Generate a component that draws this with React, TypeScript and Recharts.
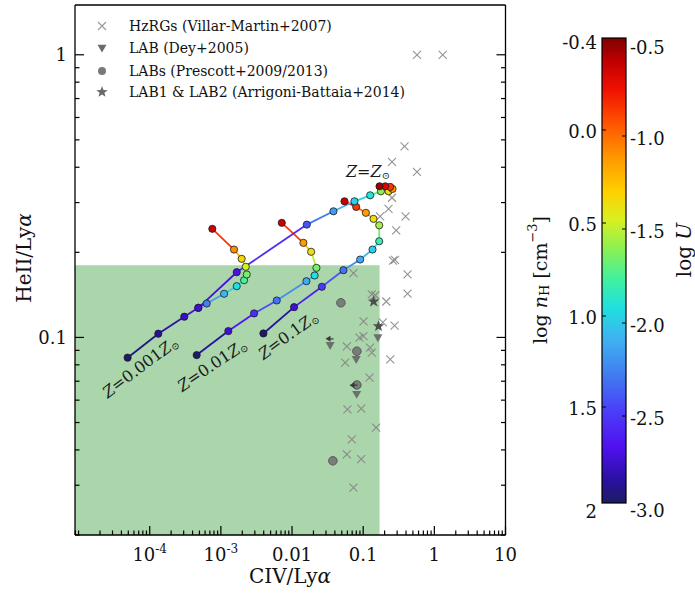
import React from 'react';
import { ComposedChart, Scatter, XAxis, YAxis, ReferenceArea } from 'recharts';

const FONT = '"DejaVu Serif", serif';

const X_DOMAIN: [number, number] = [8.91e-6, 10];
const Y_DOMAIN: [number, number] = [0.02, 1.5];
const X_LABELS: Record<string, [string, string]> = {
  '0.0001': ['10', '-4'], '0.001': ['10', '-3'], '0.01': ['0.01', ''], '0.1': ['0.1', ''], '1': ['1', ''], '10': ['10', ''],
};
const Y_LABELS: Record<string, string> = { '0.1': '0.1', '1': '1' };

// green box: observed upper limits
const LIMIT_CIV = 0.17;
const LIMIT_HEII = 0.18;

// [CIV/Lya, HeII/Lya]
const HZRG: [number, number][] = [
  [0.381, 0.474], [0.254, 0.418], [0.57, 0.385], [0.254, 0.312], [0.227, 0.285], [0.173, 0.268], [0.394, 0.268],
  [0.291, 0.239], [0.262, 0.187], [0.28, 0.188], [0.073, 0.169], [0.42, 0.167], [0.42, 0.143], [0.132, 0.142],
  [0.148, 0.141], [0.211, 0.134], [0.143, 0.133], [0.101, 0.114], [0.189, 0.113], [0.276, 0.11], [0.0887, 0.0998],
  [0.101, 0.101], [0.059, 0.093], [0.125, 0.092], [0.132, 0.0883], [0.24, 0.0836], [0.0558, 0.0814], [0.1226, 0.0721],
  [0.0601, 0.0557], [0.0937, 0.056], [0.152, 0.048], [0.0693, 0.0436], [0.059, 0.0386], [0.0937, 0.0371], [0.073, 0.0294],
  [0.57, 1.0], [1.31, 1.0],
];
const DEY: [number, number][] = [[0.0343, 0.0937], [0.0797, 0.0836], [0.081, 0.0629], [0.161, 0.0998]];
const PRESCOTT: [number, number][] = [[0.0486, 0.1326], [0.0815, 0.0894], [0.0815, 0.0679], [0.0375, 0.0366]];
const ARRIGONI: [number, number][] = [[0.164, 0.1096], [0.14, 0.134]];
const CIV_LIMITS: [number, number][] = [[0.0336, 0.0989], [0.073, 0.0678]];

// model tracks: [CIV/Lya, HeII/Lya, log U]
const TRACK_Z0001: [number, number, number][] = [
  [4.89e-5, 0.0848, -3.05], [1.32e-4, 0.1031, -2.95], [3.06e-4, 0.1184, -2.85], [4.82e-4, 0.1273, -2.7],
  [6.32e-4, 0.1318, -2.3], [1.11e-3, 0.1427, -2.1], [1.67e-3, 0.1518, -1.95], [2.12e-3, 0.1594, -1.75],
  [2.31e-3, 0.167, -1.65], [2.24e-3, 0.1778, -1.45], [1.96e-3, 0.1897, -1.3], [1.53e-3, 0.2046, -1.05],
  [7.58e-4, 0.2422, -0.55],
];
const TRACK_Z001: [number, number, number][] = [
  [4.57e-4, 0.0866, -3.05], [1.273e-3, 0.1053, -2.8], [2.93e-3, 0.1216, -2.6], [6.1e-3, 0.1351, -2.35],
  [0.01593, 0.1581, -2.15], [0.02078, 0.1656, -1.95], [0.02203, 0.1763, -1.65], [0.01855, 0.2009, -1.35],
  [0.01445, 0.2161, -1.1], [7.18e-3, 0.2543, -0.55],
];
const TRACK_Z01: [number, number, number][] = [
  [3.96e-3, 0.1033, -3.05], [0.01069, 0.128, -2.8], [0.02624, 0.1511, -2.55], [0.05282, 0.1729, -2.35],
  [0.0907, 0.1886, -2.15], [0.1352, 0.2046, -2.0], [0.168, 0.2189, -1.8], [0.168, 0.2493, -1.55],
  [0.1396, 0.2627, -1.35], [0.1091, 0.2759, -1.1], [0.0797, 0.2896, -0.8], [0.0546, 0.3031, -0.55],
];
const TRACK_ZSUN: [number, number, number][] = [
  [4.82e-4, 0.1273, -2.8], [1.67e-3, 0.1701, -2.75], [0.01614, 0.2507, -2.45], [0.0382, 0.2794, -2.2],
  [0.0754, 0.3031, -2.0], [0.1254, 0.3183, -1.9], [0.1774, 0.3289, -1.6], [0.227, 0.3289, -1.35],
  [0.2584, 0.3354, -1.1], [0.2399, 0.3408, -0.8], [0.204, 0.3425, -0.6], [0.1696, 0.3425, -0.45],
];
const TRACKS = [TRACK_Z0001, TRACK_Z001, TRACK_Z01, TRACK_ZSUN];

// colour bar (t = 0 bottom, 1 top)
const U_LO = -3.05;
const U_HI = -0.4;
const CMAP: [number, string][] = [
  [0.0, '#1c1c64'], [0.05, '#2a10a0'], [0.12, '#5010f0'], [0.2, '#4a40f8'], [0.28, '#4080f0'], [0.35, '#40b0f0'],
  [0.42, '#20e0e0'], [0.48, '#40f0a0'], [0.55, '#90f050'], [0.61, '#d8f020'], [0.67, '#ffd000'], [0.74, '#ff9a00'],
  [0.81, '#ff5a00'], [0.89, '#f01000'], [0.95, '#c00000'], [1.0, '#800000'],
];
const NH_TICKS: [string, number][] = [['-0.4', 42], ['0.0', 131], ['0.5', 224], ['1.0', 317], ['1.5', 408], ['2', 511]];
const U_TICKS: [string, number][] = [['-0.5', 47], ['-1.0', 138], ['-1.5', 231], ['-2.0', 325], ['-2.5', 418], ['-3.0', 510]];

const LEGEND = ['HzRGs (Villar-Martin+2007)', 'LAB (Dey+2005)', 'LABs (Prescott+2009/2013)', 'LAB1 & LAB2 (Arrigoni-Battaia+2014)'];

const hex = (h: string) => [1, 3, 5].map((i) => parseInt(h.slice(i, i + 2), 16));
function cmap(u: number) {
  const t = Math.min(1, Math.max(0, (u - U_LO) / (U_HI - U_LO)));
  for (let i = 1; i < CMAP.length; i++) {
    if (t <= CMAP[i][0]) {
      const [t0, c0] = CMAP[i - 1];
      const [t1, c1] = CMAP[i];
      const f = (t - t0) / (t1 - t0);
      const a = hex(c0), b = hex(c1);
      return `rgb(${a.map((v, k) => Math.round(v + (b[k] - v) * f)).join(',')})`;
    }
  }
  return CMAP[CMAP.length - 1][1];
}

function logTicks(lo: number, hi: number) {
  const out: number[] = [];
  for (let d = Math.floor(Math.log10(lo)); d <= Math.ceil(Math.log10(hi)); d++) {
    for (let k = 1; k < 10; k++) {
      const v = Number((k * Math.pow(10, d)).toPrecision(3));
      if (v >= lo && v <= hi * 1.0001) out.push(v);
    }
  }
  return out;
}
const isMajor = (v: number) => Math.abs(Math.log10(v) - Math.round(Math.log10(v))) < 1e-9;
const X_TICKS = logTicks(X_DOMAIN[0], X_DOMAIN[1]);
const Y_TICKS = logTicks(Y_DOMAIN[0], Y_DOMAIN[1]);

const tickStroke = { stroke: '#000', strokeWidth: 1.2 };

const BottomTick = (p: any) => {
  const v = p.payload.value;
  const len = isMajor(v) && v > 2e-5 ? 9 : 4.5;
  const lab = X_LABELS[String(v)];
  return (
    <g>
      <line x1={p.x} x2={p.x} y1={p.y} y2={p.y - len} {...tickStroke} />
      {lab && (
        <text x={p.x} y={p.y + 26} textAnchor="middle" fontSize={18} fontFamily={FONT} fill="#111">
          {lab[0]}
          {lab[1] && <tspan dy={-8} fontSize={12}>{lab[1]}</tspan>}
        </text>
      )}
    </g>
  );
};
const TopTick = (p: any) => {
  const v = p.payload.value;
  const len = isMajor(v) && v > 2e-5 ? 9 : 4.5;
  return <line x1={p.x} x2={p.x} y1={p.y} y2={p.y + len} {...tickStroke} />;
};
const LeftTick = (p: any) => {
  const v = p.payload.value;
  const len = isMajor(v) ? 9 : 4.5;
  const lab = Y_LABELS[String(v)];
  return (
    <g>
      <line x1={p.x} x2={p.x + len} y1={p.y} y2={p.y} {...tickStroke} />
      {lab && (
        <text x={p.x - 8} y={p.y} textAnchor="end" dominantBaseline="central" fontSize={18} fontFamily={FONT} fill="#111">{lab}</text>
      )}
    </g>
  );
};
const RightTick = (p: any) => {
  const v = p.payload.value;
  const len = isMajor(v) ? 9 : 4.5;
  return <line x1={p.x} x2={p.x - len} y1={p.y} y2={p.y} {...tickStroke} />;
};

const crossPath = (x: number, y: number, s: number) => `M${x - s},${y - s}L${x + s},${y + s}M${x - s},${y + s}L${x + s},${y - s}`;
const starPoints = (x: number, y: number, R: number, r: number) =>
  Array.from({ length: 10 }, (_, i) => {
    const a = -Math.PI / 2 + (i * Math.PI) / 5;
    const rr = i % 2 ? r : R;
    return `${x + rr * Math.cos(a)},${y + rr * Math.sin(a)}`;
  }).join(' ');
const triPoints = (x: number, y: number, s: number) => `${x - s},${y - s * 0.75} ${x + s},${y - s * 0.75} ${x},${y + s}`;

const CrossShape = (p: any) => <path d={crossPath(p.cx, p.cy, 4)} stroke="#808080" strokeOpacity={0.85} strokeWidth={1.1} fill="none" />;
const TriShape = (p: any) => <polygon points={triPoints(p.cx, p.cy, 4.5)} fill="#5e5e5e" fillOpacity={0.85} />;
const CircleShape = (p: any) => <circle cx={p.cx} cy={p.cy} r={4.3} fill="#6e6e6e" stroke="#4a4a4a" strokeWidth={0.8} fillOpacity={0.85} />;
const StarShape = (p: any) => <polygon points={starPoints(p.cx, p.cy, 6, 2.5)} fill="#4e4e4e" />;
const ArrowShape = (p: any) => (
  <g>
    <polygon points={`${p.cx - 4},${p.cy} ${p.cx + 1},${p.cy - 3} ${p.cx + 1},${p.cy + 3}`} fill="#3a3a3a" />
    <line x1={p.cx} x2={p.cx + 4} y1={p.cy} y2={p.cy} stroke="#3a3a3a" strokeWidth={1.2} />
  </g>
);
const ModelDot = (p: any) => <circle cx={p.cx} cy={p.cy} r={3.6} fill={cmap(p.payload.u)} stroke="#1a1a2a" strokeWidth={0.8} />;
const NoShape = () => <g />;

const pts = (arr: [number, number][]) => arr.map(([x, y]) => ({ x, y }));

const ZLabel = ({ x, y, angle, z }: { x: number; y: number; angle: number; z: string }) => (
  <text transform={`translate(${x},${y}) rotate(${angle})`} textAnchor="middle" dominantBaseline="central" fontSize={16} fontFamily={FONT} fill="#1a1a1a">
    <tspan fontStyle="italic">Z</tspan>={z}<tspan fontStyle="italic">Z</tspan>
    <tspan fontSize={10} dy={4}>⊙</tspan>
  </text>
);

const axisLine = { stroke: '#000', strokeWidth: 1.3 };

export default function App() {
  const segments = TRACKS.flatMap((tr) =>
    tr.slice(1).map((p, i) => ({
      data: [{ x: tr[i][0], y: tr[i][1] }, { x: p[0], y: p[1] }],
      color: cmap((tr[i][2] + p[2]) / 2),
    })),
  );

  return (
    <div style={{ position: 'absolute', left: 0, top: 0, width: 695, height: 595, background: '#fff' }}>
      <ComposedChart width={695} height={595} margin={{ top: 4, right: 188.5, bottom: 59, left: 74 }}>
        <XAxis dataKey="x" type="number" scale="log" domain={X_DOMAIN} allowDataOverflow ticks={X_TICKS} interval={0}
          height={1} tickSize={0} tickMargin={0} tickLine={false} axisLine={axisLine} tick={BottomTick} />
        <XAxis xAxisId="top" orientation="top" type="number" scale="log" domain={X_DOMAIN} allowDataOverflow ticks={X_TICKS} interval={0}
          height={1} tickSize={0} tickMargin={0} tickLine={false} axisLine={axisLine} tick={TopTick} />
        <YAxis dataKey="y" type="number" scale="log" domain={Y_DOMAIN} allowDataOverflow ticks={Y_TICKS} interval={0}
          width={1} tickSize={0} tickMargin={0} tickLine={false} axisLine={axisLine} tick={LeftTick} />
        <YAxis yAxisId="right" orientation="right" type="number" scale="log" domain={Y_DOMAIN} allowDataOverflow ticks={Y_TICKS} interval={0}
          width={1} tickSize={0} tickMargin={0} tickLine={false} axisLine={axisLine} tick={RightTick} />

        <ReferenceArea x1={X_DOMAIN[0]} x2={LIMIT_CIV} y1={Y_DOMAIN[0]} y2={LIMIT_HEII} fill="#008000" fillOpacity={0.33} stroke="none" ifOverflow="visible" />

        <Scatter data={pts(HZRG)} shape={CrossShape} isAnimationActive={false} />
        <Scatter data={pts(DEY)} shape={TriShape} isAnimationActive={false} />
        <Scatter data={pts(PRESCOTT)} shape={CircleShape} isAnimationActive={false} />
        <Scatter data={pts(ARRIGONI)} shape={StarShape} isAnimationActive={false} />
        <Scatter data={pts(CIV_LIMITS)} shape={ArrowShape} isAnimationActive={false} />

        {segments.map((s, i) => (
          <Scatter key={`seg${i}`} data={s.data} line={{ stroke: s.color, strokeWidth: 1.8 }} shape={NoShape} isAnimationActive={false} />
        ))}
        {TRACKS.map((tr, i) => (
          <Scatter key={`trk${i}`} data={tr.map(([x, y, u]) => ({ x, y, u }))} shape={ModelDot} isAnimationActive={false} />
        ))}
      </ComposedChart>

      <svg width={695} height={595} style={{ position: 'absolute', left: 0, top: 0, pointerEvents: 'none' }} fontFamily={FONT}>
        <defs>
          <linearGradient id="jetbar" x1="0" y1="1" x2="0" y2="0">
            {CMAP.map(([t, c]) => <stop key={t} offset={t} stopColor={c} />)}
          </linearGradient>
        </defs>

        {/* axis titles */}
        <text transform="translate(24,258) rotate(-90)" textAnchor="middle" dominantBaseline="central" fontSize={20} fill="#111">
          HeII/Ly<tspan fontStyle="italic">α</tspan>
        </text>
        <text x={290} y={583} textAnchor="middle" fontSize={20} fill="#111">
          CIV/Ly<tspan fontStyle="italic">α</tspan>
        </text>

        {/* legend */}
        <path d={crossPath(102, 26, 4)} stroke="#9a9a9a" strokeWidth={1.1} fill="none" />
        <polygon points={triPoints(102, 48, 4.5)} fill="#6a6a6a" />
        <circle cx={102} cy={71} r={4} fill="#7a7a7a" />
        <polygon points={starPoints(102, 92, 6, 2.5)} fill="#6a6a6a" />
        {LEGEND.map((t, i) => (
          <text key={t} x={129} y={[26, 48, 71, 92][i]} dominantBaseline="central" fontSize={14} fill="#111">{t}</text>
        ))}

        {/* metallicity labels */}
        <ZLabel x={140} y={367} angle={-37} z="0.001" />
        <ZLabel x={212} y={365} angle={-34} z="0.01" />
        <ZLabel x={288} y={335} angle={-36} z="0.1" />
        <ZLabel x={368} y={171} angle={0} z="" />

        {/* colour bar */}
        <rect x={602} y={38} width={24} height={465} fill="url(#jetbar)" stroke="#000" strokeWidth={1.2} />
        {NH_TICKS.map(([t, y]) => (
          <g key={`n${t}`}>
            <text x={597} y={y} textAnchor="end" dominantBaseline="central" fontSize={18} fill="#111">{t}</text>
            {y > 60 && y < 490 && <line x1={602} x2={606} y1={y - 1} y2={y - 1} stroke="#000" strokeWidth={1} />}
          </g>
        ))}
        {U_TICKS.map(([t, y]) => (
          <g key={`u${t}`}>
            <text x={630} y={y} textAnchor="start" dominantBaseline="central" fontSize={18} fill="#111">{t}</text>
            {y > 60 && y < 490 && <line x1={626} x2={622} y1={y - 2} y2={y - 2} stroke="#000" strokeWidth={1} />}
          </g>
        ))}
        <text transform="translate(540,280) rotate(-90)" textAnchor="middle" dominantBaseline="central" fontSize={19} fill="#111">
          log <tspan fontStyle="italic">n</tspan><tspan fontSize={13} dy={4}>H</tspan><tspan dy={-4}> [cm</tspan>
          <tspan fontSize={13} dy={-8}>−3</tspan><tspan dy={8}>]</tspan>
        </text>
        <text transform="translate(684,250) rotate(-90)" textAnchor="middle" dominantBaseline="central" fontSize={20} fill="#111">
          log <tspan fontStyle="italic">U</tspan>
        </text>
      </svg>
    </div>
  );
}
